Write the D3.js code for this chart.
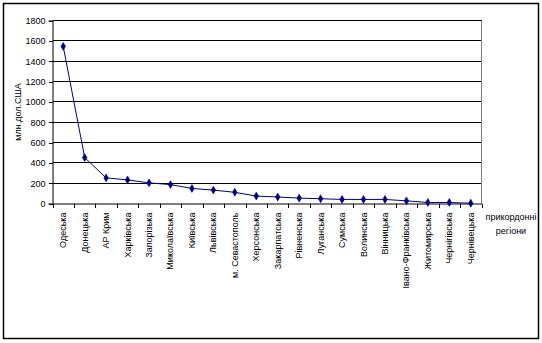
<!DOCTYPE html>
<html><head><meta charset="utf-8">
<script src="https://cdn.jsdelivr.net/npm/d3@7"></script>
<style>body{margin:0;background:#fff}svg{display:block;font-family:"Liberation Sans",Arial,sans-serif}</style>
</head><body>
<script>
const categories = ["Одеська","Донецька","АР Крим","Харківська","Запорізька","Миколаївська","Київська","Львівська","м. Севастополь","Херсонська","Закарпатська","Рівненська","Луганська","Сумська","Волинська","Вінницька","Івано-Франківська","Житомирська","Чернігівська","Чернівецька"];
const values = [1545,452,252,232,203,186,148,132,110,73,64,53,47,40,40,40,26,10,10,3];
const yTicks = [0,200,400,600,800,1000,1200,1400,1600,1800];
const yTitle = "млн.дол.США";
const xTitle = ["прикордонні","регіони"];

const W=542,H=343;
const svg=d3.select("body").append("svg").attr("width",W).attr("height",H);
svg.append("rect").attr("x",3.5).attr("y",3.5).attr("width",535).attr("height",335).attr("fill","#fff").attr("stroke","#000").attr("stroke-width",1.5);

const L=52.5,R=481.5,T=20.5,B=203.5;
const x=d3.scaleBand().domain(categories).range([L,R]);
const y=d3.scaleLinear().domain([0,1800]).range([B,T]);

// gridlines
svg.append("g").selectAll("line").data(yTicks.filter(d=>d>0)).join("line")
  .attr("x1",L).attr("x2",R).attr("y1",d=>Math.round(y(d)-0.5)+0.5).attr("y2",d=>Math.round(y(d)-0.5)+0.5)
  .attr("stroke","#000").attr("stroke-width",1).attr("shape-rendering","crispEdges");
svg.append("line").attr("x1",R).attr("x2",R).attr("y1",T).attr("y2",B).attr("stroke","#808080").attr("shape-rendering","crispEdges");

// y axis
const ya=svg.append("g").attr("transform",`translate(${L},0)`).call(d3.axisLeft(y).tickValues(yTicks).tickFormat(d3.format("d")).tickSize(4).tickPadding(3));
ya.select(".domain").attr("stroke","#000");
ya.selectAll("line").attr("shape-rendering","crispEdges");
ya.selectAll("text").attr("font-size",9).attr("font-family","Liberation Sans, Arial, sans-serif").attr("fill","#000");

// x axis
const xa=svg.append("g").attr("transform",`translate(0,${B})`).call(d3.axisBottom(x).tickSize(0).tickFormat(""));
xa.select(".domain").attr("stroke","#000");
const bounds=categories.map(c=>x(c)).concat([R]);
svg.append("g").selectAll("line").data(bounds).join("line")
  .attr("x1",d=>Math.round(d)+0.5).attr("x2",d=>Math.round(d)+0.5).attr("y1",B).attr("y2",B+4).attr("stroke","#000").attr("shape-rendering","crispEdges");

// category labels
svg.append("g").selectAll("text").data(categories).join("text")
  .attr("transform",d=>`translate(${x(d)+x.bandwidth()/2+3},${B+9}) rotate(-90)`)
  .attr("text-anchor","end").attr("font-size",9).text(d=>d);

// line
const line=d3.line().x((d,i)=>x(categories[i])+x.bandwidth()/2).y(d=>y(d));
svg.append("path").datum(values).attr("d",line).attr("fill","none").attr("stroke","#000080").attr("stroke-width",1);
svg.append("g").selectAll("path").data(values).join("path")
  .attr("transform",(d,i)=>`translate(${x(categories[i])+x.bandwidth()/2},${y(d)})`)
  .attr("d",d3.symbol(d3.symbolDiamond,18)()).attr("fill","#000080").attr("stroke","#000080").attr("stroke-width",0.6);

// titles
svg.append("text").attr("transform",`translate(21,${(T+B)/2}) rotate(-90)`).attr("text-anchor","middle").attr("font-size",9).text(yTitle);
svg.append("text").attr("x",511).attr("y",220).attr("text-anchor","middle").attr("font-size",9)
  .selectAll("tspan").data(xTitle).join("tspan").attr("x",511).attr("dy",(d,i)=>i?14:0).text(d=>d);
</script>
</body></html>
